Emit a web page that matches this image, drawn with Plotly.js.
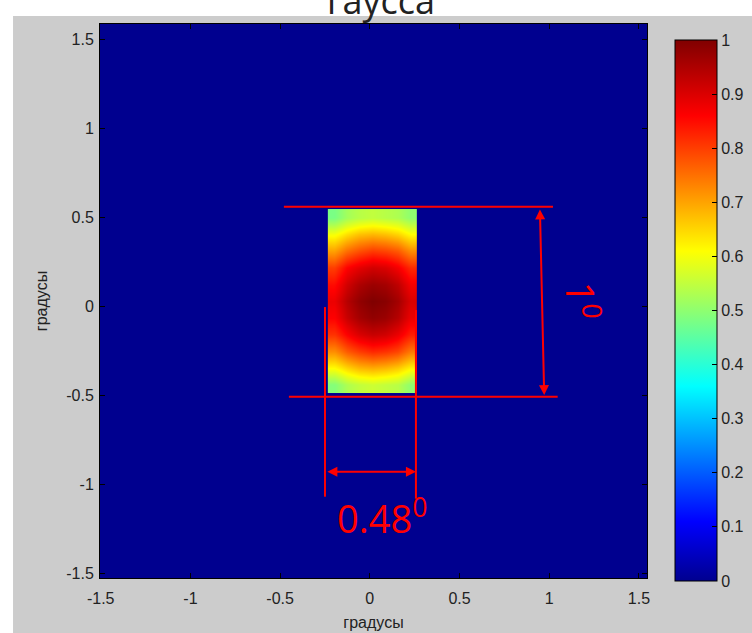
<!DOCTYPE html>
<html>
<head>
<meta charset="utf-8">
<script src="https://cdn.plot.ly/plotly-3.0.1.min.js"></script>
<style>html,body{margin:0;padding:0;background:#fff;}#chart{width:752px;height:633px;}</style>
</head>
<body>
<div id="chart"></div>
<script>
// Beam cell edges (degrees)
var beamXEdges = [-0.234, -0.163, -0.092, -0.021, 0.050, 0.121, 0.192, 0.263];
var beamYEdges = [-0.487, -0.393, -0.299, -0.205, -0.111, -0.017, 0.077, 0.171, 0.265, 0.359, 0.453, 0.547];
// Normalised intensity (rows bottom -> top)
var beamIntensity = [
  [0.49, 0.53, 0.55, 0.56, 0.55, 0.54, 0.50],
  [0.61, 0.65, 0.68, 0.69, 0.68, 0.66, 0.62],
  [0.72, 0.77, 0.80, 0.82, 0.81, 0.79, 0.74],
  [0.81, 0.86, 0.90, 0.92, 0.91, 0.88, 0.83],
  [0.86, 0.92, 0.96, 0.98, 0.97, 0.94, 0.88],
  [0.88, 0.94, 0.98, 1.00, 0.99, 0.96, 0.90],
  [0.85, 0.91, 0.95, 0.97, 0.96, 0.93, 0.87],
  [0.80, 0.86, 0.89, 0.91, 0.90, 0.87, 0.82],
  [0.70, 0.75, 0.78, 0.80, 0.79, 0.77, 0.72],
  [0.60, 0.64, 0.67, 0.68, 0.67, 0.65, 0.61],
  [0.48, 0.52, 0.54, 0.55, 0.54, 0.53, 0.50]
];
var axisTicks = [-1.5, -1, -0.5, 0, 0.5, 1, 1.5];
var axisTickText = ['-1.5', '-1', '-0.5', '0', '0.5', '1', '1.5'];
var cbTicks = [0, 0.1, 0.2, 0.3, 0.4, 0.5, 0.6, 0.7, 0.8, 0.9, 1];
var cbTickText = ['0', '0.1', '0.2', '0.3', '0.4', '0.5', '0.6', '0.7', '0.8', '0.9', '1'];
var titleText = 'гаусса';
var axisLabel = 'градусы';
var widthLabel = '0.48<sup>0</sup>';
var heightLabel = '1<sup>0</sup>';

var jet = [
  [0, 'rgb(0,0,143)'],
  [0.11, 'rgb(0,0,255)'],
  [0.36, 'rgb(0,255,255)'],
  [0.61, 'rgb(255,255,0)'],
  [0.86, 'rgb(255,0,0)'],
  [1, 'rgb(128,0,0)']
];

var trace = {
  type: 'heatmap',
  x: beamXEdges,
  y: beamYEdges,
  z: beamIntensity,
  zmin: 0, zmax: 1,
  zsmooth: 'best',
  colorscale: jet,
  hoverinfo: 'skip',
  colorbar: {
    x: 1.051, xanchor: 'left',
    y: 0.483, yanchor: 'middle',
    len: 0.9765, lenmode: 'fraction',
    thickness: 42, thicknessmode: 'pixels',
    outlinewidth: 1, outlinecolor: '#000',
    xpad: 0, ypad: 0,
    ticks: 'inside', ticklen: 5, tickcolor: '#000',
    tickmode: 'array', tickvals: cbTicks, ticktext: cbTickText,
    tickfont: {family: 'Liberation Sans, Arial, sans-serif', size: 16, color: '#222'}
  }
};

var red = '#ff0000';
var tickFont = {family: 'Liberation Sans, Arial, sans-serif', size: 16, color: '#222'};
var labFont = {family: 'Liberation Sans, Arial, sans-serif', size: 16, color: '#222'};

var layout = {
  width: 752, height: 633,
  margin: {l: 100, r: 105, t: 24, b: 55, pad: 0, autoexpand: false},
  paper_bgcolor: '#cccccc',
  plot_bgcolor: 'rgb(0,0,143)',
  showlegend: false,
  xaxis: {
    range: [-1.504, 1.545], autorange: false,
    tickmode: 'array', tickvals: axisTicks, ticktext: axisTickText,
    ticks: 'inside', ticklen: 5, tickcolor: '#000',
    showline: true, linecolor: '#000', linewidth: 1, mirror: 'ticks',
    showgrid: false, zeroline: false,
    tickfont: tickFont, ticklabelstandoff: 6,
    title: {text: axisLabel, font: labFont, standoff: 10}
  },
  yaxis: {
    range: [-1.527, 1.587], autorange: false,
    tickmode: 'array', tickvals: axisTicks, ticktext: axisTickText,
    ticks: 'inside', ticklen: 5, tickcolor: '#000',
    showline: true, linecolor: '#000', linewidth: 1, mirror: 'ticks',
    showgrid: false, zeroline: false,
    tickfont: tickFont, ticklabelstandoff: 2,
    title: {text: axisLabel, font: labFont, standoff: 14}
  },
  shapes: [
    {type: 'rect', xref: 'paper', yref: 'paper', x0: -0.2, x1: 1.3, y0: 1.0144, y1: 1.1,
     fillcolor: '#ffffff', line: {width: 0}, layer: 'below'},
    {type: 'rect', xref: 'paper', yref: 'paper', x0: -0.2, x1: -0.159, y0: -0.2, y1: 1.1,
     fillcolor: '#ffffff', line: {width: 0}, layer: 'below'},
    {type: 'line', xref: 'x', yref: 'y', x0: -0.479, x1: 1.021, y0: 0.560, y1: 0.560, line: {color: red, width: 2}},
    {type: 'line', xref: 'x', yref: 'y', x0: -0.451, x1: 1.047, y0: -0.508, y1: -0.508, line: {color: red, width: 2}},
    {type: 'line', xref: 'x', yref: 'y', x0: -0.250, x1: -0.250, y0: -0.004, y1: -1.070, line: {color: red, width: 2}},
    {type: 'line', xref: 'x', yref: 'y', x0: 0.257, x1: 0.257, y0: -0.021, y1: -1.081, line: {color: red, width: 2}}
  ],
  annotations: [
    {xref: 'paper', yref: 'paper', x: 0.514, y: 1.0433, xanchor: 'center', yanchor: 'middle',
     text: titleText, showarrow: false, font: {family: 'Open Sans, Noto Sans, sans-serif', size: 36, color: '#222'}},
    {xref: 'x', yref: 'y', axref: 'x', ayref: 'y', x: 0.972, y: -0.499, ax: 0.948, ay: 0.553,
     text: '', showarrow: true, arrowside: 'end+start', arrowhead: 2, startarrowhead: 2,
     arrowsize: 1, startarrowsize: 1, arrowwidth: 2, arrowcolor: red, standoff: 0, startstandoff: 0},
    {xref: 'x', yref: 'y', axref: 'x', ayref: 'y', x: 0.257, y: -0.930, ax: -0.245, ay: -0.930,
     text: '', showarrow: true, arrowside: 'end+start', arrowhead: 2, startarrowhead: 2,
     arrowsize: 1, startarrowsize: 1, arrowwidth: 2, arrowcolor: red, standoff: 0, startstandoff: 0},
    {xref: 'x', yref: 'y', x: 0.07, y: -1.179, xanchor: 'center', yanchor: 'middle',
     text: widthLabel, showarrow: false, font: {family: 'Open Sans, Noto Sans, sans-serif', size: 38, color: red}},
    {xref: 'x', yref: 'y', x: 1.19, y: 0.035, xanchor: 'center', yanchor: 'middle', textangle: 90,
     text: heightLabel, showarrow: false, font: {family: 'Open Sans, Noto Sans, sans-serif', size: 38, color: red}}
  ]
};

Plotly.newPlot('chart', [trace], layout, {staticPlot: true, displayModeBar: false});
</script>
</body>
</html>
